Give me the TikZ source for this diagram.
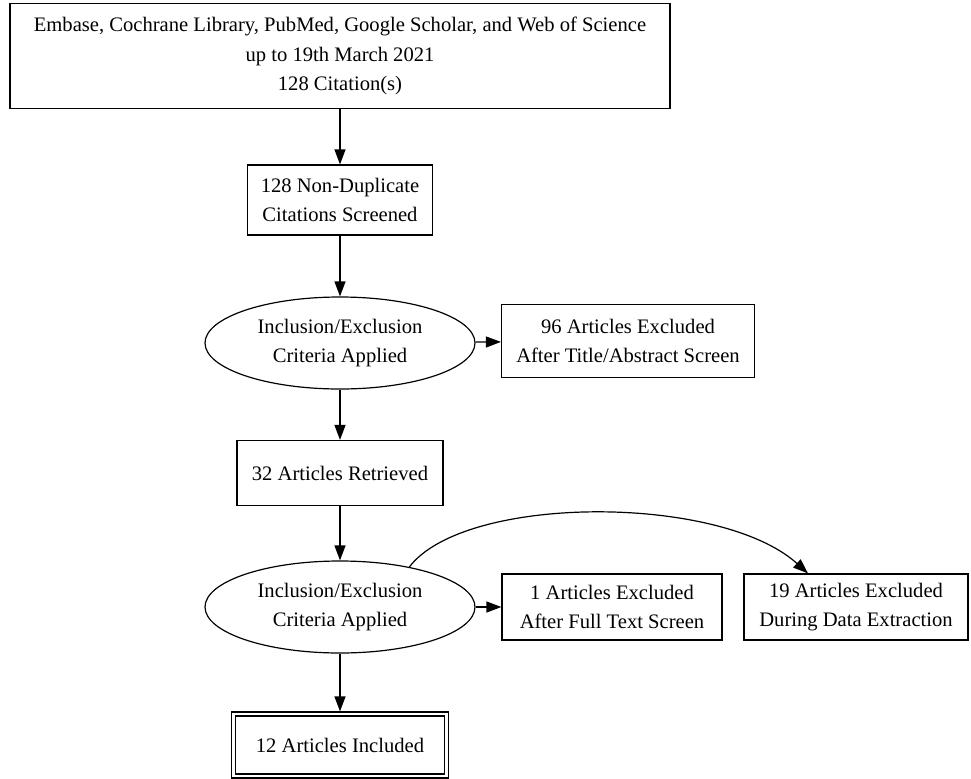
\documentclass[tikz,border=0pt]{standalone}
\usepackage{fontspec}
\setmainfont{Liberation Serif}
\usetikzlibrary{arrows.meta,shapes.geometric}
\tikzset{
  box/.style={draw, rectangle, align=center, inner sep=0pt, line width=0.6pt},
  crit/.style={draw, ellipse, align=center, inner sep=0pt, line width=0.6pt,
    minimum width=135pt, minimum height=46pt},
  flow/.style={-{Triangle[length=7.5pt,width=5.5pt]}, line width=0.6pt},
}
\begin{document}
\begin{tikzpicture}[x=0.5pt, y=-0.5pt, font=\fontsize{10.3}{14.8}\selectfont]
  \useasboundingbox (0,0) rectangle (971,778);
  % main column
  \node[box, minimum width=330pt, minimum height=52.5pt] (search) at (340,56)
    {Embase, Cochrane Library, PubMed, Google Scholar, and Web of Science\\up to 19th March 2021\\128 Citation(s)};
  \node[box, minimum width=92.5pt, minimum height=35pt] (screened) at (340,200)
    {128 Non-Duplicate\\Citations Screened};
  \node[crit] (critA) at (340,343) {Inclusion/Exclusion\\Criteria Applied};
  \node[box, minimum width=103pt, minimum height=32.5pt] (retrieved) at (340,473)
    {32 Articles Retrieved};
  \node[crit] (critB) at (340,607) {Inclusion/Exclusion\\Criteria Applied};
  \node[box, double, double distance=1.4pt, minimum width=106.5pt, minimum height=31pt] (included) at (340,745)
    {12 Articles Included};
  % exclusions
  \node[box, minimum width=126.5pt, minimum height=36.5pt] (exclA) at (628,341)
    {96 Articles Excluded\\After Title/Abstract Screen};
  \node[box, minimum width=110pt, minimum height=33pt] (exclB) at (612,607)
    {1 Articles Excluded\\After Full Text Screen};
  \node[box, minimum width=112pt, minimum height=33pt] (exclC) at (856,607)
    {19 Articles Excluded\\During Data Extraction};
  % connectors
  \draw[flow] (search) -- (screened);
  \draw[flow] (screened) -- (critA);
  \draw[flow] (critA) -- (exclA);
  \draw[flow] (critA) -- (retrieved);
  \draw[flow] (retrieved) -- (critB);
  \draw[flow] (critB) -- (exclB);
  \draw[flow, shorten >=1pt] (critB) -- (included);
  \draw[flow] (critB.30) .. controls (465,494) and (720,494) .. ([xshift=-24pt]exclC.north);
\end{tikzpicture}
\end{document}
